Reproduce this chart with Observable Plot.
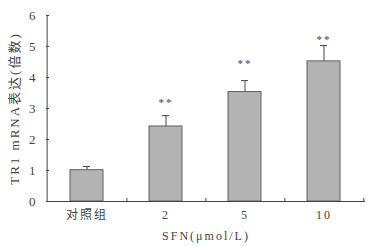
<!DOCTYPE html>
<html><head><meta charset="utf-8">
<script src="https://cdn.jsdelivr.net/npm/d3@7"></script>
<script src="https://cdn.jsdelivr.net/npm/@observablehq/plot@0.6"></script>
<style>
html,body{margin:0;padding:0;background:#fff;}
svg{display:block;}
</style></head><body>
<div id="chart"></div>
<script>
const categories = ["对照组", "2", "5", "10"];
const values = [1.01, 2.42, 3.53, 4.52];
const errors = [0.12, 0.35, 0.37, 0.51];
const stars = ["", "**", "**", "**"];
const starHeights = [null, 3.28, 4.55, 5.32];
const yTicks = [0, 1, 2, 3, 4, 5, 6];

const data = categories.map((c, i) => ({cat: c, v: values[i], e: errors[i], s: stars[i], sy: starHeights[i]}));

const W = 370, H = 246, mL = 46, mR = 5, mT = 15, mB = 45;
const step = (W - mL - mR) / categories.length;
const font = "'Liberation Serif','DejaVu Serif','Noto Sans CJK SC',serif";
const ink = "#444";

const chart = Plot.plot({
  width: W, height: H,
  marginLeft: mL, marginRight: mR, marginTop: mT, marginBottom: mB,
  style: {fontFamily: font, fontSize: "12px", color: ink, background: "#fff", letterSpacing: "2px"},
  x: {domain: categories, paddingInner: 0.58, paddingOuter: 0.29},
  y: {domain: [0, 6]},
  marks: [
    Plot.barY(data, {x: "cat", y: "v", fill: "#b3b3b3", stroke: "#606060", strokeWidth: 1}),
    Plot.ruleX(data, {x: "cat", y1: "v", y2: d => d.v + d.e, stroke: ink, strokeWidth: 1}),
    Plot.tickY(data, {x: "cat", y: d => d.v + d.e, stroke: ink, strokeWidth: 1, insetLeft: 13, insetRight: 13}),
    Plot.text(data.filter(d => d.s), {x: "cat", y: "sy", text: "s", dy: 3, fill: "#666", fontSize: 11, fontWeight: "bold"}),
    Plot.ruleY([0], {stroke: ink, strokeWidth: 1}),
    Plot.ruleX([categories[0]], {x: d => d, y1: 0, y2: 6, dx: -step / 2, stroke: ink, strokeWidth: 1}),
    Plot.ruleX(categories, {x: d => d, y1: 0, y2: 0.1, dx: step / 2, stroke: ink}),
    Plot.axisY({ticks: yTicks, tickFormat: d3.format("d"), tickSize: 3, dx: 3, tickPadding: 9, stroke: ink, fill: ink, fontSize: 13,
      label: "TR1 mRNA表达(倍数)", labelAnchor: "center", labelArrow: "none", labelOffset: 37}),
    Plot.axisX({tickSize: 0, tickPadding: 9, fill: ink, fontSize: 12,
      label: "SFN(μmol/L)", labelAnchor: "center", labelArrow: "none", labelOffset: 38})
  ]
});
document.getElementById("chart").appendChild(chart);
</script>
</body></html>
